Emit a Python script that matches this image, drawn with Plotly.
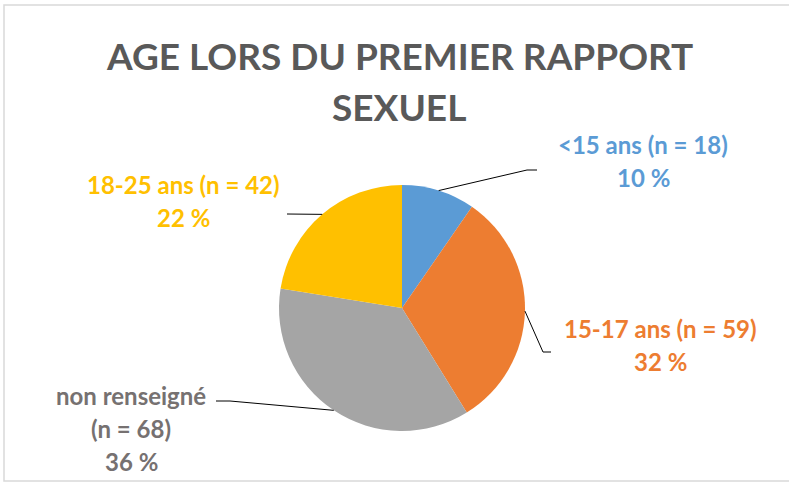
import math
import plotly.graph_objects as go

categories = ["<15 ans", "15-17 ans", "non renseigné", "18-25 ans"]
counts = [18, 59, 68, 42]
slice_colors = ["#5B9BD5", "#ED7D31", "#A5A5A5", "#FFC000"]
label_colors = ["#5B9BD5", "#ED7D31", "#767171", "#FFC000"]
title_lines = ["AGE LORS DU PREMIER RAPPORT", "SEXUEL"]

W, H = 789, 482
CX, CY, R = 402, 308, 123

FONT = "Lato, 'Open Sans', sans-serif"

def px(x):
    return x / W

def py(y):
    return 1 - y / H

total = sum(counts)
pcts = [round(100 * c / total) for c in counts]

fig = go.Figure(go.Pie(
    labels=categories, values=counts, sort=False, direction="clockwise",
    rotation=0, marker=dict(colors=slice_colors, line=dict(width=0)),
    textinfo="none", hoverinfo="label+value+percent",
    domain=dict(x=[px(CX - R), px(CX + R)], y=[py(CY + R), py(CY - R)]),
    showlegend=False,
))

annotations = []
# title
for i, t in enumerate(title_lines):
    annotations.append(dict(text=f"<b>{t}</b>", x=px(399), y=py(55 + i * 51), xref="paper", yref="paper",
                            showarrow=False, xanchor="center", yanchor="middle",
                            font=dict(family=FONT, size=37, color="#595959")))

# label lines
label_text = []
for cat, n, p in zip(categories, counts, pcts):
    if cat == "non renseigné":
        label_text.append([cat, f"(n = {n})", f"{p} %"])
    else:
        label_text.append([f"{cat} (n = {n})", f"{p} %"])

label_pos = [(643, 144), (660, 328), (131, 395), (183, 185)]
LINE_H = 33
for lines, (lx, ly), col in zip(label_text, label_pos, label_colors):
    for j, t in enumerate(lines):
        annotations.append(dict(text=f"<b>{t}</b>", x=px(lx), y=py(ly + j * LINE_H), xref="paper", yref="paper",
                                showarrow=False, xanchor="center", yanchor="middle",
                                font=dict(family=FONT, size=24, color=col)))

# leader lines from slice mid-angles
elbows = [[(527, 170), (537, 170)], [(543, 352), (551, 352)],
          [(230, 401), (216, 401)], [(287, 214)]]
shapes = []
cum = 0
for n, pts in zip(counts, elbows):
    mid = (cum + n / 2) / total * 2 * math.pi
    cum += n
    ex = CX + R * math.sin(mid)
    ey = CY - R * math.cos(mid)
    path = f"M {px(ex)} {py(ey)}" + "".join(f" L {px(a)} {py(b)}" for a, b in pts)
    shapes.append(dict(type="path", path=path, xref="paper", yref="paper",
                       line=dict(color="#000000", width=1)))

# chart frame
shapes.append(dict(type="rect", x0=px(4), x1=px(820), y0=py(481), y1=py(5), xref="paper", yref="paper",
                   line=dict(color="#D9D9D9", width=1.5), fillcolor="rgba(0,0,0,0)", layer="below"))

fig.update_layout(
    width=W, height=H, margin=dict(l=0, r=0, t=0, b=0),
    paper_bgcolor="white", plot_bgcolor="white",
    annotations=annotations, shapes=shapes,
)

fig.write_html("out.html", config={"displayModeBar": False},
               post_script="document.body.style.margin='0';document.body.style.overflow='hidden';")
